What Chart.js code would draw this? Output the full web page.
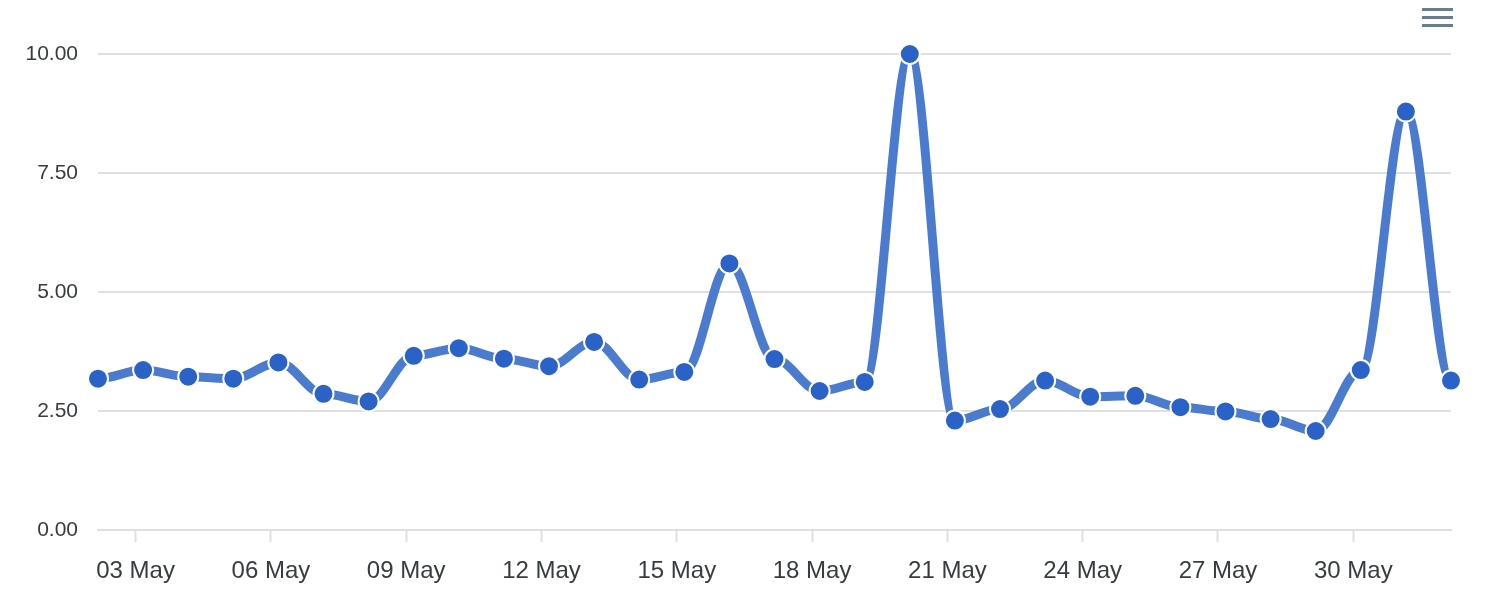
<!DOCTYPE html>
<html>
<head>
<meta charset="utf-8">
<script src="https://cdn.jsdelivr.net/npm/chart.js@4"></script>
<style>
  html, body { margin: 0; padding: 0; background: #fff; }
  #wrap { position: relative; width: 1488px; height: 602px; }
  #menu { position: absolute; left: 1422px; top: 8px; width: 31px; }
  #menu div { height: 3px; background: #6c7b8d; margin-bottom: 5px; }
</style>
</head>
<body>
<div id="wrap">
  <canvas id="c" width="1488" height="602"></canvas>
  <div id="menu"><div></div><div></div><div></div></div>
</div>
<script>
// daily readings, 02 May -> 01 Jun (timestamps at 04:00 UTC)
var dates = [
    '2024-05-02', '2024-05-03', '2024-05-04', '2024-05-05', '2024-05-06',
    '2024-05-07', '2024-05-08', '2024-05-09', '2024-05-10', '2024-05-11',
    '2024-05-12', '2024-05-13', '2024-05-14', '2024-05-15', '2024-05-16',
    '2024-05-17', '2024-05-18', '2024-05-19', '2024-05-20', '2024-05-21',
    '2024-05-22', '2024-05-23', '2024-05-24', '2024-05-25', '2024-05-26',
    '2024-05-27', '2024-05-28', '2024-05-29', '2024-05-30', '2024-05-31',
    '2024-06-01'
];
var values = [
    3.18, 3.36, 3.22, 3.18, 3.52, 2.86, 2.70, 3.66, 3.82, 3.60,
    3.44, 3.95, 3.16, 3.32, 5.60, 3.59, 2.92, 3.11, 10.00, 2.30,
    2.54, 3.14, 2.80, 2.82, 2.58, 2.49, 2.33, 2.08, 3.36, 8.79,
    3.14
];
var tickDates = [
    '2024-05-03', '2024-05-06', '2024-05-09', '2024-05-12', '2024-05-15',
    '2024-05-18', '2024-05-21', '2024-05-24', '2024-05-27', '2024-05-30'
];
var yTicks = [0, 2.5, 5, 7.5, 10];
var monthNames = ['Jan', 'Feb', 'Mar', 'Apr', 'May', 'Jun', 'Jul', 'Aug', 'Sep', 'Oct', 'Nov', 'Dec'];

var points = dates.map(function (d, i) {
    return { x: Date.parse(d + 'T04:00:00Z'), y: values[i] };
});
var tickValues = tickDates.map(function (d) { return Date.parse(d + 'T00:00:00Z'); });

function fmtDay(ms) {
    var d = new Date(ms);
    var dd = String(d.getUTCDate()).padStart(2, '0');
    return dd + ' ' + monthNames[d.getUTCMonth()];
}

// "smooth" curve: every point gets flat control handles, 0.35 of the gap each side
var flatHandles = {
    id: 'flatHandles',
    beforeDatasetsDraw: function (chart) {
        var meta = chart.getDatasetMeta(0);
        meta.dataset.updateControlPoints(chart.chartArea, 'x');
        var pts = meta.data;
        for (var i = 0; i < pts.length; i++) {
            var p = pts[i];
            var prev = pts[i - 1], next = pts[i + 1];
            p.cp1x = prev ? p.x - (p.x - prev.x) * 0.35 : p.x;
            p.cp1y = p.y;
            p.cp2x = next ? p.x + (next.x - p.x) * 0.35 : p.x;
            p.cp2y = p.y;
        }
        meta.dataset._pointsUpdated = true;
    }
};

var FONT = 'Helvetica, Arial, "Liberation Sans", sans-serif';

new Chart(document.getElementById('c'), {
    type: 'line',
    data: {
        datasets: [{
            data: points,
            borderColor: '#4a7bcf',
            borderWidth: 9,
            tension: 0.4,
            pointRadius: 10,
            pointBackgroundColor: '#2b62c8',
            pointBorderColor: '#ffffff',
            pointBorderWidth: 2,
            clip: false,
            fill: false
        }]
    },
    options: {
        responsive: false,
        animation: false,
        layout: { padding: { left: 0, top: 54, right: 37, bottom: 0 } },
        plugins: { legend: { display: false }, tooltip: { enabled: false } },
        scales: {
            x: {
                type: 'linear',
                min: points[0].x,
                max: points[points.length - 1].x,
                afterBuildTicks: function (scale) {
                    scale.ticks = tickValues.map(function (v) { return { value: v }; });
                },
                afterFit: function (scale) { scale.height = 72; },
                grid: {
                    drawOnChartArea: false,
                    drawTicks: true,
                    tickLength: 12,
                    tickWidth: 2,
                    tickColor: '#e0e0e0'
                },
                border: { display: true, color: '#e0e0e0', width: 2 },
                ticks: {
                    autoSkip: false,
                    maxRotation: 0,
                    padding: 15,
                    color: '#373d3f',
                    font: { family: FONT, size: 24 },
                    callback: function (v) { return fmtDay(v); }
                }
            },
            y: {
                min: 0,
                max: 10,
                afterBuildTicks: function (scale) {
                    scale.ticks = yTicks.map(function (v) { return { value: v }; });
                },
                afterFit: function (scale) { scale.width = 98; },
                grid: { color: '#e0e0e0', lineWidth: 2, drawTicks: false },
                border: { display: false },
                ticks: {
                    padding: 20,
                    color: '#373d3f',
                    font: { family: FONT, size: 21 },
                    callback: function (v) { return v.toFixed(2); }
                }
            }
        }
    },
    plugins: [flatHandles]
});
</script>
</body>
</html>
